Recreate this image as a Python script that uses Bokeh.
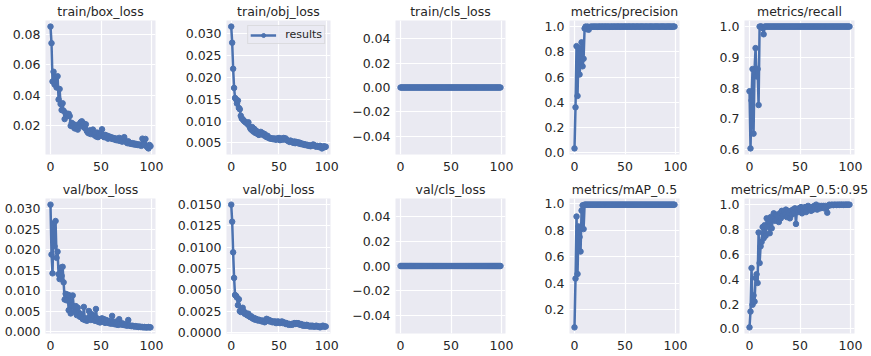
from bokeh.plotting import figure
from bokeh.layouts import gridplot
from bokeh.models import Range1d, FixedTicker, CustomJSTickFormatter, Legend, LegendItem
from bokeh.embed import file_html
from bokeh.resources import INLINE

epochs = list(range(100))

train_box_loss = [
    0.0855, 0.0745, 0.0490, 0.0555, 0.0470, 0.0520, 0.0450, 0.0525, 0.0370, 0.0440,
    0.0340, 0.0300, 0.0345, 0.0295, 0.0240, 0.0280, 0.0270, 0.0262, 0.0275, 0.0260,
    0.0195, 0.0215, 0.0190, 0.0205, 0.0178, 0.0185, 0.0200, 0.0170, 0.0195, 0.0210,
    0.0220, 0.0225, 0.0190, 0.0210, 0.0180, 0.0205, 0.0160, 0.0150, 0.0145, 0.0165,
    0.0140, 0.0150, 0.0170, 0.0135, 0.0145, 0.0125, 0.0150, 0.0120, 0.0140, 0.0130,
    0.0145, 0.0172, 0.0130, 0.0120, 0.0135, 0.0118, 0.0130, 0.0110, 0.0125, 0.0115,
    0.0120, 0.0108, 0.0115, 0.0105, 0.0112, 0.0100, 0.0108, 0.0098, 0.0115, 0.0095,
    0.0105, 0.0090, 0.0112, 0.0120, 0.0095, 0.0088, 0.0080, 0.0092, 0.0078, 0.0082,
    0.0075, 0.0080, 0.0072, 0.0078, 0.0070, 0.0074, 0.0068, 0.0072, 0.0066, 0.0070,
    0.0062, 0.0110, 0.0075, 0.0068, 0.0108, 0.0060, 0.0052, 0.0045, 0.0068, 0.0060,
]

train_obj_loss = [
    0.0317, 0.0280, 0.0220, 0.0176, 0.0153, 0.0150, 0.0140, 0.0147, 0.0130, 0.0127,
    0.0112, 0.0106, 0.0104, 0.0101, 0.0099, 0.0097, 0.0096, 0.0093, 0.0097, 0.0088,
    0.0083, 0.0080, 0.0086, 0.0076, 0.0082, 0.0073, 0.0078, 0.0071, 0.0070, 0.0068,
    0.0073, 0.0075, 0.0070, 0.0072, 0.0067, 0.0070, 0.0065, 0.0063, 0.0066, 0.0062,
    0.0060, 0.0061, 0.0059, 0.0060, 0.0058, 0.0060, 0.0058, 0.0057, 0.0060, 0.0059,
    0.0061, 0.0056, 0.0058, 0.0060, 0.0057, 0.0061, 0.0059, 0.0060, 0.0056, 0.0055,
    0.0054, 0.0052, 0.0055, 0.0053, 0.0051, 0.0050, 0.0053, 0.0049, 0.0052, 0.0050,
    0.0051, 0.0048, 0.0050, 0.0047, 0.0048, 0.0046, 0.0047, 0.0045, 0.0046, 0.0044,
    0.0045, 0.0043, 0.0044, 0.0042, 0.0043, 0.0045, 0.0046, 0.0044, 0.0042, 0.0041,
    0.0043, 0.0042, 0.0040, 0.0043, 0.0041, 0.0037, 0.0039, 0.0042, 0.0040, 0.0041,
]

train_cls_loss = [0.0] * 100

precision = [
    0.034, 0.360, 0.845, 0.450, 0.830, 0.620, 0.720, 0.875, 0.685, 0.745,
    0.985, 1.000, 0.980, 1.000, 0.975, 0.995, 1.000, 0.998, 1.000, 0.999,
    1.000, 0.999, 1.000, 0.998, 1.000, 1.000, 0.999, 1.000, 1.000, 0.999,
    1.000, 1.000, 0.999, 1.000, 1.000, 0.998, 1.000, 1.000, 0.999, 1.000,
    1.000, 0.999, 1.000, 1.000, 1.000, 0.999, 1.000, 1.000, 0.999, 1.000,
    1.000, 1.000, 0.999, 1.000, 1.000, 1.000, 0.999, 1.000, 1.000, 1.000,
    0.999, 1.000, 1.000, 1.000, 0.999, 1.000, 1.000, 1.000, 1.000, 0.999,
    1.000, 1.000, 1.000, 0.999, 1.000, 1.000, 1.000, 1.000, 0.999, 1.000,
    1.000, 1.000, 1.000, 1.000, 0.999, 1.000, 1.000, 1.000, 1.000, 1.000,
    0.999, 1.000, 1.000, 1.000, 1.000, 1.000, 0.999, 1.000, 1.000, 1.000,
]

recall = [
    0.790, 0.604, 0.760, 0.862, 0.652, 0.860, 0.930, 0.838, 0.862, 0.745,
    1.000, 1.000, 1.000, 0.995, 0.975, 1.000, 1.000, 1.000, 1.000, 1.000,
    1.000, 1.000, 1.000, 1.000, 1.000, 1.000, 1.000, 1.000, 1.000, 1.000,
    1.000, 1.000, 1.000, 1.000, 1.000, 1.000, 1.000, 1.000, 1.000, 1.000,
    1.000, 1.000, 1.000, 1.000, 1.000, 1.000, 1.000, 1.000, 1.000, 1.000,
    1.000, 1.000, 1.000, 1.000, 1.000, 1.000, 1.000, 1.000, 1.000, 1.000,
    1.000, 1.000, 1.000, 1.000, 1.000, 1.000, 1.000, 1.000, 1.000, 1.000,
    1.000, 1.000, 1.000, 1.000, 1.000, 1.000, 1.000, 1.000, 1.000, 1.000,
    1.000, 1.000, 1.000, 1.000, 1.000, 1.000, 1.000, 1.000, 1.000, 1.000,
    1.000, 1.000, 1.000, 1.000, 1.000, 1.000, 1.000, 1.000, 1.000, 1.000,
]

val_box_loss = [
    0.0310, 0.0188, 0.0142, 0.0264, 0.0208, 0.0270, 0.0180, 0.0195, 0.0140, 0.0128,
    0.0156, 0.0136, 0.0158, 0.0120, 0.0078, 0.0092, 0.0076, 0.0090, 0.0052, 0.0088,
    0.0044, 0.0064, 0.0088, 0.0060, 0.0048, 0.0062, 0.0040, 0.0058, 0.0046, 0.0036,
    0.0042, 0.0034, 0.0030, 0.0060, 0.0028, 0.0032, 0.0026, 0.0030, 0.0050, 0.0034,
    0.0028, 0.0042, 0.0030, 0.0038, 0.0026, 0.0055, 0.0032, 0.0024, 0.0030, 0.0022,
    0.0028, 0.0032, 0.0024, 0.0030, 0.0021, 0.0028, 0.0022, 0.0026, 0.0020, 0.0024,
    0.0019, 0.0038, 0.0022, 0.0018, 0.0024, 0.0017, 0.0021, 0.0016, 0.0030, 0.0018,
    0.0017, 0.0020, 0.0016, 0.0018, 0.0015, 0.0016, 0.0014, 0.0028, 0.0015, 0.0014,
    0.0013, 0.0014, 0.0013, 0.0012, 0.0013, 0.0012, 0.0012, 0.0011, 0.0012, 0.0011,
    0.0011, 0.0011, 0.0010, 0.0011, 0.0010, 0.0010, 0.0010, 0.0011, 0.0010, 0.0010,
]

val_obj_loss = [
    0.0150, 0.0130, 0.0094, 0.0064, 0.0044, 0.0043, 0.0041, 0.0032, 0.0039, 0.0025,
    0.0024, 0.0026, 0.0029, 0.0025, 0.0022, 0.0023, 0.0021, 0.0020, 0.0022, 0.0019,
    0.0018, 0.0019, 0.0017, 0.0016, 0.0017, 0.0015, 0.0016, 0.0015, 0.0014, 0.0015,
    0.0014, 0.0014, 0.0013, 0.0014, 0.0013, 0.0012, 0.0013, 0.0016, 0.0014, 0.0015,
    0.0013, 0.0014, 0.0013, 0.0012, 0.0013, 0.0012, 0.0013, 0.0011, 0.0012, 0.0013,
    0.0012, 0.0011, 0.0012, 0.0013, 0.0011, 0.0012, 0.0011, 0.0010, 0.0011, 0.0010,
    0.0009, 0.0010, 0.0009, 0.0010, 0.0009, 0.0010, 0.0011, 0.0010, 0.0011, 0.0010,
    0.0011, 0.0010, 0.0009, 0.0010, 0.0009, 0.0008, 0.0009, 0.0008, 0.0008, 0.0009,
    0.0008, 0.0008, 0.0007, 0.0008, 0.0007, 0.0008, 0.0007, 0.0007, 0.0007, 0.0008,
    0.0007, 0.0007, 0.0007, 0.0006, 0.0007, 0.0007, 0.0008, 0.0007, 0.0007, 0.0007,
]

val_cls_loss = [0.0] * 100

map_05 = [
    0.066, 0.435, 0.905, 0.470, 0.830, 0.750, 0.640, 0.950, 0.990, 0.810,
    0.995, 0.995, 0.995, 0.995, 0.995, 0.995, 0.995, 0.995, 0.995, 0.995,
    0.995, 0.995, 0.995, 0.995, 0.995, 0.995, 0.995, 0.995, 0.995, 0.995,
    0.995, 0.995, 0.995, 0.995, 0.995, 0.995, 0.995, 0.995, 0.995, 0.995,
    0.995, 0.995, 0.995, 0.995, 0.995, 0.995, 0.995, 0.995, 0.995, 0.995,
    0.995, 0.995, 0.995, 0.995, 0.995, 0.995, 0.995, 0.995, 0.995, 0.995,
    0.995, 0.995, 0.995, 0.995, 0.995, 0.995, 0.995, 0.995, 0.995, 0.995,
    0.995, 0.995, 0.995, 0.995, 0.995, 0.995, 0.995, 0.995, 0.995, 0.995,
    0.995, 0.995, 0.995, 0.995, 0.995, 0.995, 0.995, 0.995, 0.995, 0.995,
    0.995, 0.995, 0.995, 0.995, 0.995, 0.995, 0.995, 0.995, 0.995, 0.995,
]

map_05_095 = [
    0.013, 0.140, 0.490, 0.195, 0.270, 0.220, 0.410, 0.440, 0.370, 0.776,
    0.530, 0.665, 0.700, 0.820, 0.730, 0.835, 0.750, 0.890, 0.820, 0.870,
    0.770, 0.900, 0.810, 0.880, 0.930, 0.870, 0.920, 0.880, 0.910, 0.860,
    0.930, 0.890, 0.950, 0.910, 0.940, 0.920, 0.960, 0.900, 0.950, 0.930,
    0.890, 0.950, 0.920, 0.960, 0.930, 0.970, 0.845, 0.960, 0.940, 0.970,
    0.950, 0.980, 0.930, 0.970, 0.960, 0.980, 0.940, 0.970, 0.990, 0.960,
    0.970, 0.950, 0.980, 0.960, 0.990, 0.970, 1.000, 0.960, 0.980, 0.990,
    0.970, 0.990, 0.980, 0.990, 0.970, 0.990, 0.980, 0.935, 0.990, 1.000,
    0.995, 0.998, 1.000, 0.996, 0.999, 1.000, 0.997, 0.999, 1.000, 0.998,
    1.000, 0.999, 1.000, 0.998, 1.000, 0.999, 1.000, 1.000, 0.999, 1.000,
]

titles = [
    "train/box_loss", "train/obj_loss", "train/cls_loss", "metrics/precision", "metrics/recall",
    "val/box_loss", "val/obj_loss", "val/cls_loss", "metrics/mAP_0.5", "metrics/mAP_0.5:0.95",
]
series = [
    train_box_loss, train_obj_loss, train_cls_loss, precision, recall,
    val_box_loss, val_obj_loss, val_cls_loss, map_05, map_05_095,
]
y_ticks = [
    [0.02, 0.04, 0.06, 0.08],
    [0.005, 0.010, 0.015, 0.020, 0.025, 0.030],
    [-0.04, -0.02, 0.0, 0.02, 0.04],
    [0.0, 0.2, 0.4, 0.6, 0.8, 1.0],
    [0.6, 0.7, 0.8, 0.9, 1.0],
    [0.0, 0.005, 0.010, 0.015, 0.020, 0.025, 0.030],
    [0.0, 0.0025, 0.0050, 0.0075, 0.0100, 0.0125, 0.0150],
    [-0.04, -0.02, 0.0, 0.02, 0.04],
    [0.2, 0.4, 0.6, 0.8, 1.0],
    [0.0, 0.2, 0.4, 0.6, 0.8, 1.0],
]
y_decimals = [2, 3, 2, 1, 1, 3, 4, 2, 1, 1]
x_ticks = [0, 50, 100]
legend_label = "results"

BLUE = "#4c72b0"
TEXT = "#262626"
FONT = "DejaVu Sans"

col_widths = [174, 174, 174, 174, 175]
col_left = [45, 46, 47, 47, 48]
row_height = 178
row_top = [18, 19]
frame_w = 110
frame_h = 136

rows = []
for r in range(2):
    row = []
    for c in range(5):
        i = r * 5 + c
        ys = series[i]
        lo, hi = min(ys), max(ys)
        span = hi - lo
        if span == 0:
            lo, hi = lo - 0.05, hi + 0.05
            span = hi - lo
        y0, y1 = lo - 0.05 * span, hi + 0.05 * span
        w = col_widths[c]
        p = figure(
            width=w, height=row_height, output_backend="svg", toolbar_location=None, tools="",
            x_range=Range1d(-4.95, 103.95), y_range=Range1d(y0, y1),
            min_border_left=col_left[c], min_border_right=w - col_left[c] - frame_w,
            min_border_top=row_top[r], min_border_bottom=row_height - row_top[r] - frame_h,
            background_fill_color="#eaeaf2", border_fill_color="white", outline_line_color=None,
            title=titles[i],
        )
        p.title.text_font = FONT
        p.title.text_font_size = "12.5px"
        p.title.text_font_style = "normal"
        p.title.text_color = TEXT
        p.title.align = "center"
        p.title.standoff = 3

        p.xaxis.ticker = FixedTicker(ticks=x_ticks)
        p.yaxis.ticker = FixedTicker(ticks=y_ticks[i])
        p.yaxis.formatter = CustomJSTickFormatter(
            args=dict(d=y_decimals[i]),
            code="return tick.toFixed(d).replace('-', '\\u2212');",
        )
        for ax in (p.xaxis[0], p.yaxis[0]):
            ax.axis_line_color = None
            ax.major_tick_line_color = None
            ax.minor_tick_line_color = None
            ax.major_tick_out = 0
            ax.major_tick_in = 0
            ax.major_label_text_font = FONT
            ax.major_label_text_font_size = "12.5px"
            ax.major_label_text_color = TEXT
        p.xaxis.major_label_standoff = 7
        p.yaxis.major_label_standoff = 5
        p.xgrid.grid_line_color = "white"
        p.ygrid.grid_line_color = "white"
        p.xgrid.grid_line_width = 1.2
        p.ygrid.grid_line_width = 1.2

        lr = p.line(epochs, ys, line_width=2.5, color=BLUE)
        sr = p.scatter(epochs, ys, size=5.5, color=BLUE)

        if i == 1:
            leg = Legend(items=[LegendItem(label=legend_label, renderers=[lr, sr])],
                         location="top_right")
            leg.label_text_font = FONT
            leg.label_text_font_size = "11px"
            leg.label_text_color = TEXT
            leg.background_fill_color = "#eaeaf2"
            leg.background_fill_alpha = 0.8
            leg.border_line_color = "#cccccc"
            leg.border_line_width = 1
            leg.padding = 2
            leg.margin = 5
            leg.spacing = 0
            leg.glyph_width = 26
            leg.glyph_height = 10
            leg.label_height = 10
            leg.label_standoff = 9
            p.add_layout(leg)
        row.append(p)
    rows.append(row)

grid = gridplot(rows, toolbar_location=None)
open("out.html", "w").write(file_html(grid, INLINE))
